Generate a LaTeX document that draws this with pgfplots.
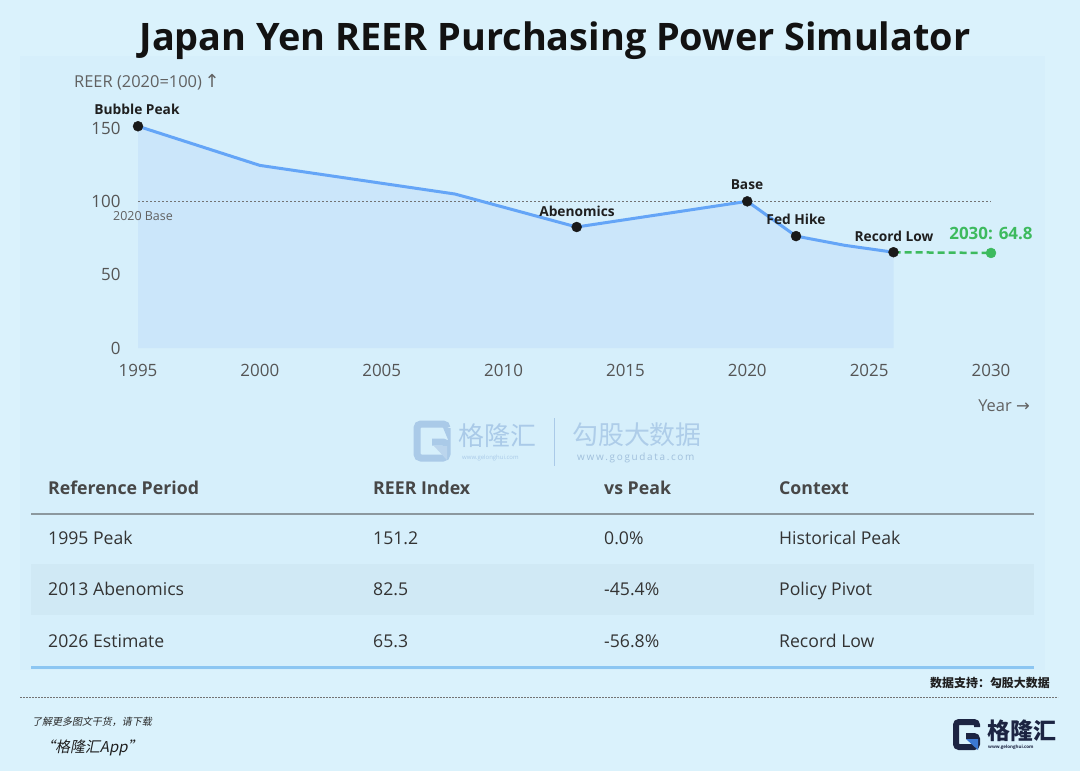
\documentclass[border=0pt]{standalone}
\usepackage{fontspec}
\setmainfont{Open Sans}
\newfontfamily\cjk{Noto Sans CJK SC}
\newfontfamily\cjkslant[FakeSlant=0.2]{Noto Sans CJK SC}
\newfontfamily\sym{DejaVu Sans}
\usepackage{pgfplots}
\pgfplotsset{compat=1.18}
\definecolor{bg}{RGB}{218,242,252}
\definecolor{panel}{RGB}{214,239,251}
\definecolor{areablue}{RGB}{203,230,250}
\definecolor{lineblue}{RGB}{100,165,247}
\definecolor{grn}{RGB}{61,186,94}
\definecolor{tickgray}{RGB}{85,85,85}
\definecolor{rowbg}{RGB}{208,233,245}
\definecolor{hdrline}{RGB}{140,152,158}
\definecolor{botline}{RGB}{140,198,242}
\definecolor{wm}{RGB}{170,202,232}
\definecolor{navy}{RGB}{28,36,66}
\definecolor{logoblue}{RGB}{60,120,210}
\newcommand{\fs}[1]{\fontsize{#1}{#1}\selectfont}
\begin{document}
\begin{tikzpicture}
\useasboundingbox (0,0) rectangle (1080bp,-771bp);
\begin{scope}[x=1bp,y=-1bp]
\fill[bg] (0,0) rectangle (1080,771);
\fill[panel] (20,56) rectangle (1045,670);
\node[anchor=center, inner sep=0, font=\fs{38}\bfseries, text=black!93] at (555,41) {Japan Yen REER Purchasing Power Simulator};
\node[anchor=west, inner sep=0, font=\fs{16.5}, text=black!62] at (74,82) {REER (2020=100)\,{\sym\fs{18}↑}};
\node[anchor=east, inner sep=0, font=\fs{16.5}, text=black!62] at (1030,406) {Year {\sym →}};
\end{scope}

\begin{axis}[
 at={(138bp,-348bp)}, anchor=south west,
 scale only axis, width=853bp, height=220bp,
 xmin=1995, xmax=2030, ymin=0, ymax=150,
 clip=false,
 axis line style={draw=none},
 major tick length=0pt,
 xtick={1995,2000,...,2030}, ytick={0,50,100,150},
 xticklabel style={font=\fs{17}, text=tickgray, yshift=-13bp},
 yticklabel style={font=\fs{17}, text=tickgray, xshift=-14bp},
 /pgf/number format/assume math mode=true,
 /pgf/number format/1000 sep={},
]
\addplot[fill=areablue, draw=none] coordinates {(1995,151.2)(2000,124.5)(2008,105)(2013,82.5)(2020,100)(2022,76.3)(2024,70)(2026,65.3)} \closedcycle;
\addplot[black!55, line width=0.8bp, dash pattern=on 2bp off 2bp] coordinates {(1995,100)(2030,100)};
\addplot[lineblue, line width=3bp, line join=round] coordinates {(1995,151.2)(2000,124.5)(2008,105)(2013,82.5)(2020,100)(2022,76.3)(2024,70)(2026,65.3)};
\addplot[grn, line width=2.5bp, dash pattern=on 7bp off 4bp] coordinates {(2026,65.3)(2030,64.8)};
\addplot[only marks, mark=*, mark size=5bp, grn, mark options={draw=grn, fill=grn}] coordinates {(2030,64.8)};
\addplot[only marks, mark=*, mark size=5bp, mark options={draw=black!90, fill=black!90}] coordinates {(1995,151.2)(2013,82.5)(2020,100)(2022,76.3)(2026,65.3)};
\end{axis}

\begin{scope}[x=1bp,y=-1bp]
% point labels
\node[font=\fs{13.8}\bfseries, text=black!88, inner sep=0] at (137,109) {Bubble Peak};
\node[font=\fs{13.8}\bfseries, text=black!88, inner sep=0] at (577,211) {Abenomics};
\node[font=\fs{13.8}\bfseries, text=black!88, inner sep=0] at (747,185) {Base};
\node[font=\fs{13.8}\bfseries, text=black!88, inner sep=0] at (796,219) {Fed Hike};
\node[font=\fs{13.8}\bfseries, text=black!88, inner sep=0] at (894,236) {Record Low};
\node[font=\fs{17}\bfseries, text=grn, inner sep=0] at (991,233) {2030: 64.8};
\node[anchor=west, font=\fs{12.5}, text=black!62, inner sep=0] at (113,216) {2020 Base};

% watermark
\draw[wm, line width=7bp, rounded corners=4bp] (447,428) -- (447,424) -- (417,424) -- (417,458) -- (447,458) -- (447,442) -- (432,442);
\fill[wm!80!white] (434,446) -- (447,446) -- (447,460) -- cycle;
\node[anchor=west, inner sep=0, font=\fs{26}\cjk, text=wm] at (458,436) {格隆汇};
\node[anchor=west, inner sep=0, font=\fs{6}, text=wm] at (462,458) {www.gelonghui.com};
\draw[wm, line width=1bp] (554,418) -- (554,466);
\node[anchor=west, inner sep=0, font=\fs{26}\cjk, text=wm!95!white] at (572,435) {勾股大数据};
\node[anchor=west, inner sep=0, font=\fs{10}, text=wm!95!black] at (577,458) {w\,w\,w\,.\,g\,o\,g\,u\,d\,a\,t\,a\,.\,c\,o\,m};

% table
\fill[rowbg] (31,564) rectangle (1034,615);
\draw[hdrline, line width=2.2bp] (31,514) -- (1034,514);
\draw[botline, line width=3bp] (31,667) -- (1034,667);
\foreach \x/\t in {48/Reference Period, 373/REER Index, 604/vs Peak, 779/Context}
  \node[anchor=base west, inner sep=0, font=\fs{17.8}\bfseries, text=black!72] at (\x,494.5) {\t};
\foreach \y/\a/\b/\c/\d in {544.5/1995 Peak/151.2/0.0\%/Historical Peak, 595.5/2013 Abenomics/82.5/-45.4\%/Policy Pivot, 647.5/2026 Estimate/65.3/-56.8\%/Record Low}{
  \node[anchor=base west, inner sep=0, font=\fs{17.7}, text=black!80] at (48,\y) {\a};
  \node[anchor=base west, inner sep=0, font=\fs{17.7}, text=black!80] at (373,\y) {\b};
  \node[anchor=base west, inner sep=0, font=\fs{17.7}, text=black!80] at (604,\y) {\c};
  \node[anchor=base west, inner sep=0, font=\fs{17.7}, text=black!80] at (779,\y) {\d};
}

% footer
\node[anchor=east, inner sep=0, font=\fs{12}\cjk\bfseries, text=black!88] at (1050,683) {数据支持：勾股大数据};
\draw[black!55, line width=0.8bp, dash pattern=on 1.5bp off 1.5bp] (20,697) -- (1058,697);
\node[anchor=west, inner sep=0, font=\fs{10}\cjkslant, text=black!85] at (32,722) {了解更多图文干货，请下载};
\node[anchor=west, inner sep=0, font=\fs{15}\cjkslant, text=black!88] at (40,748) {“格隆汇App”};
% logo
\draw[navy, line width=6bp, rounded corners=3bp] (977,727) -- (977,722) -- (956,722) -- (956,747) -- (977,747) -- (977,736) -- (966,736);
\fill[logoblue] (966,739) -- (978,739) -- (978,750) -- cycle;
\node[anchor=west, inner sep=0, font=\fs{23}\cjk\bfseries, text=navy] at (987,731) {格隆汇};
\node[anchor=west, inner sep=0, font=\fs{4.5}\bfseries, text=navy] at (988,747) {www.gelonghui.com};
\end{scope}
\end{tikzpicture}
\end{document}
